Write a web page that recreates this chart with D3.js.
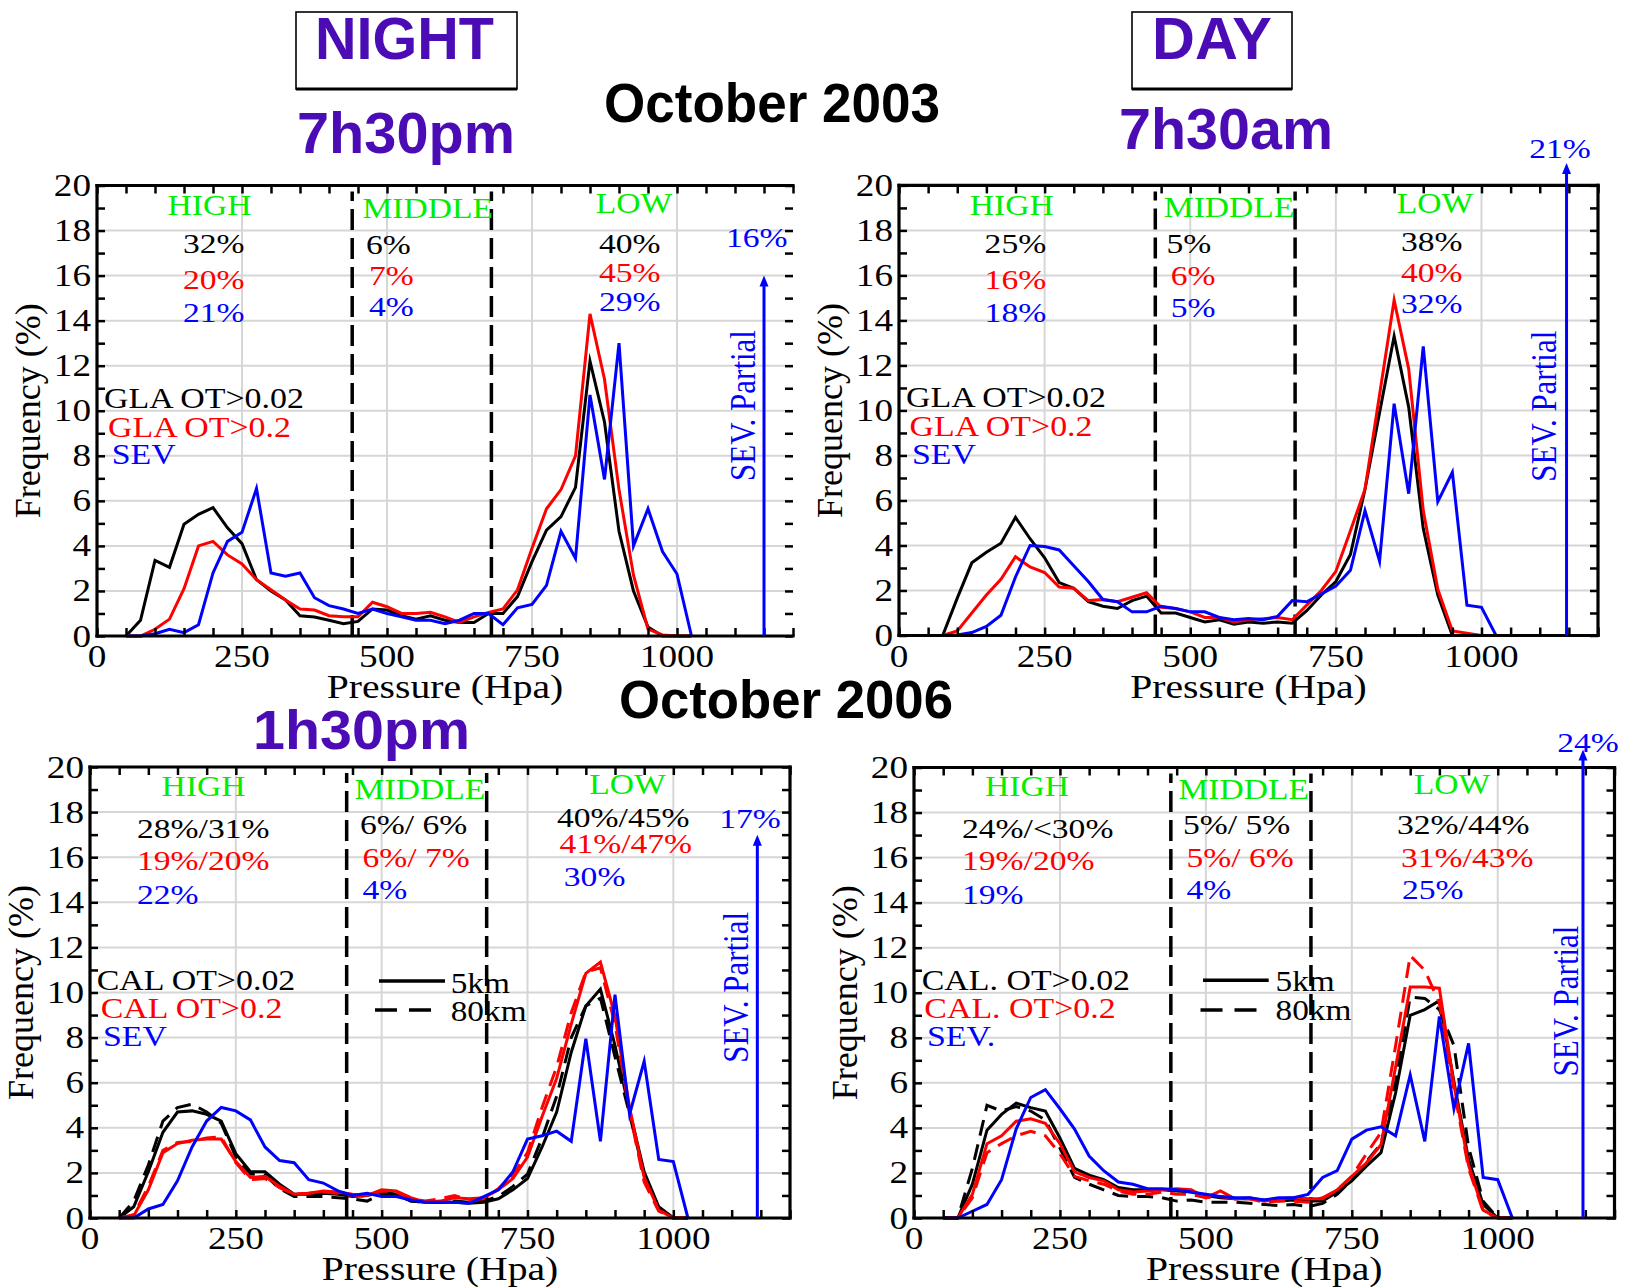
<!DOCTYPE html>
<html><head><meta charset="utf-8">
<script src="https://cdn.jsdelivr.net/npm/d3@7"></script>
<style>html,body{margin:0;padding:0;background:#fff;} svg{display:block;}</style>
</head><body>
<script>
// ---------------- DATA ----------------
const pressure = [50,75,100,125,150,175,200,225,250,275,300,325,350,375,400,425,450,475,500,525,550,575,600,625,650,675,700,725,750,775,800,825,850,875,900,925,950,975,1000,1025];

// October 2003, NIGHT 7h30pm
const night03_gla002 = [0,0.7,3.36,3.05,4.96,5.4,5.7,4.8,4.1,2.5, 2.0,1.6,0.9,0.84,0.7,0.55,0.65,1.2,1.15,0.9, 0.75,0.9,0.7,0.6,0.6,1.0,1.0,1.75,3.3,4.7, 5.3,6.6,12.2,9.5,4.65,2.0,0.4,0,0,0];
const night03_gla02  = [0,0,0.3,0.75,2.1,4.0,4.2,3.6,3.2,2.5, 2.05,1.6,1.2,1.15,0.9,0.85,0.85,1.5,1.3,1.0, 1.0,1.05,0.85,0.6,0.85,1.05,1.2,2.05,3.9,5.65, 6.5,8.0,14.3,11.4,6.5,2.7,0.3,0.05,0,0];
const night03_sev    = [0,0,0.1,0.3,0.15,0.5,2.8,4.2,4.6,6.55, 2.8,2.65,2.8,1.7,1.35,1.2,1.0,1.2,1.0,0.85, 0.7,0.7,0.55,0.7,1.0,1.0,0.5,1.25,1.4,2.25, 4.65,3.45,10.7,6.95,13.0,4.0,5.65,3.75,2.75,0];

// October 2003, DAY 7h30am
const day03_gla002 = [0,0,1.66,3.23,3.7,4.1,5.25,4.3,3.45,2.35, 2.1,1.5,1.3,1.2,1.55,1.75,1.0,1.0,0.8,0.6, 0.7,0.5,0.6,0.55,0.6,0.55,1.1,1.8,2.4,3.6, 6.5,9.9,13.3,10.15,4.75,1.8,0,0,0,0];
const day03_gla02  = [0,0,0.2,1.0,1.8,2.5,3.5,3.05,2.8,2.15, 2.1,1.55,1.6,1.5,1.7,1.9,1.25,1.2,1.05,0.8, 0.8,0.6,0.7,0.75,0.8,0.7,1.35,2.0,2.85,4.65, 6.5,10.7,14.9,11.85,5.55,2.05,0.2,0.1,0,0];
const day03_sev    = [0,0,0.02,0.13,0.4,0.9,2.6,4.0,3.95,3.8, 3.1,2.4,1.6,1.5,1.05,1.05,1.3,1.2,1.05,1.05, 0.8,0.7,0.75,0.7,0.85,1.55,1.5,1.85,2.2,2.9, 5.55,3.3,10.3,6.3,12.85,5.95,7.25,1.35,1.25,0];

// October 2006, 1h30pm
const pm06_cal002_5km  = [0,0.5,2.05,3.8,4.7,4.75,4.6,4.3,2.85,2.05, 2.05,1.5,1.05,1.05,1.1,1.05,0.95,1.0,1.15,1.05, 0.75,0.7,0.7,0.7,0.65,0.7,0.85,1.25,1.75,3.15, 4.7,7.35,9.4,10.15,7.65,4.75,2.05,0.5,0,0];
const pm06_cal002_80km = [0,0.75,2.35,4.3,4.9,5.05,4.7,4.2,2.7,1.95, 1.9,1.3,0.95,0.95,0.95,0.9,0.85,0.75,1.05,1.05, 0.75,0.7,0.7,0.75,0.7,0.75,0.95,1.4,1.95,3.55, 5.4,8.0,9.4,9.75,7.15,4.6,1.9,0.45,0,0];
const pm06_cal02_5km   = [0,0.1,1.25,2.9,3.3,3.45,3.5,3.5,2.5,1.8, 1.85,1.4,1.05,1.1,1.2,1.15,1.05,1.0,1.25,1.2, 0.9,0.7,0.75,0.9,0.85,0.9,1.25,1.75,2.7,4.5, 6.2,8.6,10.85,11.35,8.95,4.9,1.8,0.35,0,0];
const pm06_cal02_80km  = [0,0.15,1.4,3.0,3.35,3.4,3.55,3.6,2.45,1.7, 1.75,1.35,1.05,1.1,1.15,1.1,1.0,0.95,1.2,1.15, 0.85,0.75,0.85,1.0,0.8,0.85,1.3,1.9,2.9,4.9, 6.7,9.1,10.9,11.1,8.6,4.7,1.6,0.3,0,0];
const pm06_sev         = [0,0,0.4,0.6,1.65,3.15,4.3,4.9,4.75,4.35, 3.15,2.55,2.45,1.7,1.55,1.2,1.0,1.1,0.95,0.95, 0.8,0.7,0.7,0.7,0.65,0.95,1.25,2.05,3.5,3.65, 3.85,3.4,7.95,3.4,9.9,4.6,6.95,2.6,2.5,0];

// October 2006, 1h30am
const am06_cal002_5km  = [0,0,1.5,3.9,4.6,5.1,4.9,4.75,3.55,2.2, 1.9,1.7,1.35,1.25,1.25,1.25,1.2,1.15,1.0,0.9, 0.85,0.85,0.8,0.75,0.8,0.75,0.75,1.15,1.65,2.3, 2.9,5.55,9.0,9.25,9.65,6.05,2.6,0.6,0,0];
const am06_cal002_80km = [0,0,2.2,5.0,4.75,4.95,4.75,4.35,3.1,1.8, 1.5,1.25,1.0,0.95,0.95,0.9,0.75,0.8,0.7,0.7, 0.7,0.65,0.6,0.55,0.6,0.5,0.65,1.05,1.7,2.5, 3.3,6.05,9.8,9.75,9.25,7.65,3.15,0.75,0,0];
const am06_cal02_5km   = [0,0,1.05,3.3,3.65,4.3,4.4,4.2,3.3,2.05, 1.8,1.65,1.25,1.15,1.2,1.25,1.3,1.25,0.9,1.2, 0.85,0.9,0.75,0.85,0.9,0.85,0.85,1.25,1.85,2.45, 3.25,6.7,10.25,10.25,10.2,5.9,2.35,0.35,0,0];
const am06_cal02_80km  = [0,0,0.9,2.9,3.3,3.65,3.85,3.65,2.85,1.85, 1.65,1.5,1.2,1.05,1.05,1.15,1.05,1.05,0.9,0.95, 0.85,0.85,0.7,0.75,0.75,0.7,0.9,1.25,1.85,2.85, 3.8,7.65,11.65,11.0,9.55,5.7,2.2,0.3,0,0];
const am06_sev         = [0,0,0.3,0.6,1.7,3.95,5.35,5.7,4.85,3.95, 2.75,2.1,1.6,1.5,1.3,1.3,1.25,1.15,1.05,0.95, 0.9,0.9,0.8,0.9,0.9,1.05,1.8,2.1,3.5,3.9, 4.05,3.65,6.35,3.4,8.95,4.85,7.75,1.8,1.7,0];

// cloud-layer boundaries (hPa) and SEV partial share (%)
const layerBounds = [440, 680];
const sevPartial = [16, 21, 17, 24];

// layer percentages (black / red / blue)
const pctHigh = [["32%","20%","21%"], ["25%","16%","18%"], ["28%/31%","19%/20%","22%"], ["24%/<30%","19%/20%","19%"]];
const pctMid  = [["6%","7%","4%"], ["5%","6%","5%"], ["6%/ 6%","6%/ 7%","4%"], ["5%/ 5%","5%/ 6%","4%"]];
const pctLow  = [["40%","45%","29%"], ["38%","40%","32%"], ["40%/45%","41%/47%","30%"], ["32%/44%","31%/43%","25%"]];
const legendTexts = [["GLA OT>0.02","GLA OT>0.2","SEV"], ["GLA OT>0.02","GLA OT>0.2","SEV"], ["CAL OT>0.02","CAL OT>0.2","SEV"], ["CAL. OT>0.02","CAL. OT>0.2","SEV."]];
const layerNames = ["HIGH","MIDDLE","LOW"];
const resLabels = ["5km","80km"];

const xTickLabels = [0,250,500,750,1000];
const yTickLabels = [0,2,4,6,8,10,12,14,16,18,20];
const xMinorTicks = d3.range(0, 1201, 50);
const yMinorTicks = d3.range(0, 21, 1);

// ---------------- STYLE / LAYOUT ----------------
const SERIF = "'Liberation Serif','Times New Roman',serif";
const SANS = "'Liberation Sans',Arial,sans-serif";
const BLACK = "#000", RED = "#ff0000", BLUE = "#0000ff", GREEN = "#00ee00", PURPLE = "#4b0cb5";
const seriesColors = [BLACK, RED, BLUE];

const svg = d3.select("body").append("svg").attr("width", 1632).attr("height", 1287);

function stext(g, x, y, str, o) {
  const t = g.append("text")
    .attr("transform", `translate(${x},${y})${o.rot ? ` rotate(${o.rot})` : ""} scale(${o.sx || 1},${o.sy || 1})`)
    .attr("font-family", o.font || SERIF)
    .attr("font-size", o.size)
    .attr("font-weight", o.weight || "normal")
    .attr("fill", o.fill || BLACK)
    .attr("text-anchor", o.anchor || "start")
    .style("white-space", "pre")
    .text(str);
  if (o.len) t.attr("textLength", o.len).attr("lengthAdjust", "spacingAndGlyphs");
  return t;
}

const panels = [
  { rect: [97, 185.5, 793, 636], rightSpine: false,
    series: [{v: night03_gla002, c: BLACK}, {v: night03_gla02, c: RED}, {v: night03_sev, c: BLUE}],
    L: { high: [112.5, 29.5], hp: [86, [67.5, 103.5, 136.2]], mid: [265.4, 32.5], mp: [[269, 272, 272], [68.5, 99.5, 130.5]],
         low: [537, 27.5], lp: [[502, 502, 502], [67, 96.3, 125.5]], leg: [[7, 11, 14.7], [222.5, 251.2, 278.5]],
         sevLab: [659.7, 61.2], sevTxt: [658, 220], arrowX: 1150, arrowTop: 16 } },
  { rect: [899, 185.4, 1598, 635.5], rightSpine: true,
    series: [{v: day03_gla002, c: BLACK}, {v: day03_gla02, c: RED}, {v: day03_sev, c: BLUE}],
    L: { high: [112.8, 29.1], hp: [85.6, [67.3, 103.6, 136.4]], mid: [264.8, 31.6], mp: [[267.5, 271.7, 271.7], [67.3, 99.6, 131.6]],
         low: [536, 27.3], lp: [[502, 502, 502], [65.6, 96.4, 127.3]], leg: [[7, 10.6, 13], [221.6, 250.6, 278.1]],
         sevLab: [661, -27.4], sevTxt: [657, 220.8], arrowX: 1146, arrowTop: 21 } },
  { rect: [90, 767, 790, 1218], rightSpine: true,
    series: [{v: pm06_cal002_5km, c: BLACK}, {v: pm06_cal002_80km, c: BLACK, dash: true},
             {v: pm06_cal02_5km, c: RED}, {v: pm06_cal02_80km, c: RED, dash: true}, {v: pm06_sev, c: BLUE}],
    L: { high: [113.6, 29], hp: [47, [70.5, 103, 136.7]], mid: [264.6, 31.8], mp: [[270, 272.4, 272.4], [67, 99.5, 132]],
         low: [537.5, 27], lp: [[467, 469.6, 473.8], [59.7, 86, 118.6]], leg: [[6.7, 10.7, 13], [223, 251, 279]],
         lineLeg: { solid: [289, 355, 214], dashed: [285, 346.7, 243], t: [[360.7, 225.7], [360.7, 253.7]] },
         sevLab: [660, 60.8], sevTxt: [658, 220.4], arrowX: 1144, arrowTop: 17 } },
  { rect: [914, 767.5, 1614.5, 1218], rightSpine: true,
    series: [{v: am06_cal002_5km, c: BLACK}, {v: am06_cal002_80km, c: BLACK, dash: true},
             {v: am06_cal02_5km, c: RED}, {v: am06_cal02_80km, c: RED, dash: true}, {v: am06_sev, c: BLUE}],
    L: { high: [113, 28.5], hp: [48, [70, 102.5, 136.2]], mid: [264.5, 31.3], mp: [[269, 272.4, 272.4], [66.5, 99, 131.5]],
         low: [538, 26.5], lp: [[483, 487, 488], [66.5, 99, 131.5]], leg: [[7.7, 10.3, 13], [222, 250.5, 278]],
         lineLeg: { solid: [289, 354.7, 212.8], dashed: [286.5, 346.8, 242.5], t: [[361.5, 223], [361.5, 252]] },
         sevLab: [674, -15.5], sevTxt: [664, 233.5], arrowX: 1146, arrowTop: 20.8 } }
];

panels.forEach((p, i) => {
  const [x0, y0, x1, y1] = p.rect;
  const L = p.L;
  const x = d3.scaleLinear().domain([0, 1200]).range([x0, x1]);
  const y = d3.scaleLinear().domain([0, 20]).range([y1, y0]);
  const g = svg.append("g");

  // grid
  g.append("g").selectAll("line.gx").data(xTickLabels.filter(v => v > 0)).join("line")
    .attr("x1", d => x(d)).attr("x2", d => x(d)).attr("y1", y0).attr("y2", y1)
    .attr("stroke", "#d6d6d6").attr("stroke-width", 2);
  g.append("g").selectAll("line.gy").data(yTickLabels.filter(v => v > 0 && v < 20)).join("line")
    .attr("x1", x0).attr("x2", x1).attr("y1", d => y(d)).attr("y2", d => y(d))
    .attr("stroke", "#d6d6d6").attr("stroke-width", 2);

  // layer boundaries
  g.append("g").selectAll("line").data(layerBounds).join("line")
    .attr("x1", d => x(d)).attr("x2", d => x(d)).attr("y1", y(0)).attr("y2", y(20) + 6)
    .attr("stroke", BLACK).attr("stroke-width", 3.5).attr("stroke-dasharray", "21,8");

  // curves
  const line = d3.line().x(d => x(d[0])).y(d => y(d[1]));
  p.series.forEach(s => {
    g.append("path").datum(pressure.map((pv, k) => [pv, s.v[k]]))
      .attr("d", line).attr("fill", "none").attr("stroke", s.c).attr("stroke-width", 3)
      .attr("stroke-linejoin", "miter").attr("stroke-miterlimit", 6)
      .attr("stroke-dasharray", s.dash ? "16,9" : null);
  });

  // ticks (inward)
  const tickStyle = sel => { sel.select(".domain").remove(); sel.selectAll("line").attr("stroke", BLACK).attr("stroke-width", 2.5); sel.selectAll("text").remove(); };
  g.append("g").attr("transform", `translate(0,${y1})`).call(d3.axisBottom(x).tickValues(xMinorTicks).tickSize(-8).tickFormat("")).call(tickStyle);
  g.append("g").attr("transform", `translate(0,${y0})`).call(d3.axisTop(x).tickValues(xMinorTicks).tickSize(-8).tickFormat("")).call(tickStyle);
  g.append("g").attr("transform", `translate(${x0},0)`).call(d3.axisLeft(y).tickValues(yMinorTicks).tickSize(-8).tickFormat("")).call(tickStyle);
  g.append("g").attr("transform", `translate(${x1},0)`).call(d3.axisRight(y).tickValues(yMinorTicks).tickSize(-8).tickFormat("")).call(tickStyle);

  // spines
  const sp = (a, b, c, d) => g.append("line").attr("x1", a).attr("y1", b).attr("x2", c).attr("y2", d).attr("stroke", BLACK).attr("stroke-width", 3.2).attr("stroke-linecap", "square");
  sp(x0, y1, x1, y1); sp(x0, y0, x1, y0); sp(x0, y0, x0, y1);
  if (p.rightSpine) sp(x1, y0, x1, y1);

  // tick labels
  xTickLabels.forEach(v => stext(g, x(v), y1 + 31, String(v), {size: 31, sx: 1.2, anchor: "middle"}));
  yTickLabels.forEach(v => stext(g, x0 - 6, y(v) + 10.5, String(v), {size: 31, sx: 1.2, anchor: "end"}));

  // axis titles
  stext(g, (x0 + x1) / 2, y1 + 62, "Pressure (Hpa)", {size: 33, sx: 1.2, anchor: "middle"});
  stext(g, x0 - 57, (y0 + y1) / 2, "Frequency (%)", {size: 36, rot: -90, anchor: "middle"});

  // layer names
  stext(g, x0 + L.high[0], y0 + L.high[1], layerNames[0], {size: 30, sx: 1.12, fill: GREEN, anchor: "middle"});
  stext(g, x0 + L.mid[0], y0 + L.mid[1], layerNames[1], {size: 30, sx: 1.12, fill: GREEN});
  stext(g, x0 + L.low[0], y0 + L.low[1], layerNames[2], {size: 30, sx: 1.12, fill: GREEN, anchor: "middle"});

  // percentages
  pctHigh[i].forEach((t, k) => stext(g, x0 + L.hp[0], y0 + L.hp[1][k], t, {size: 28, sx: 1.2, fill: seriesColors[k]}));
  pctMid[i].forEach((t, k) => stext(g, x0 + L.mp[0][k], y0 + L.mp[1][k], t, {size: 28, sx: 1.2, fill: seriesColors[k]}));
  pctLow[i].forEach((t, k) => stext(g, x0 + L.lp[0][k], y0 + L.lp[1][k], t, {size: 28, sx: 1.2, fill: seriesColors[k]}));

  // legend
  legendTexts[i].forEach((t, k) => stext(g, x0 + L.leg[0][k], y0 + L.leg[1][k], t, {size: 30, sx: 1.13, fill: seriesColors[k]}));
  if (L.lineLeg) {
    const ll = L.lineLeg;
    g.append("line").attr("x1", x0 + ll.solid[0]).attr("x2", x0 + ll.solid[1]).attr("y1", y0 + ll.solid[2]).attr("y2", y0 + ll.solid[2])
      .attr("stroke", BLACK).attr("stroke-width", 3.5);
    g.append("line").attr("x1", x0 + ll.dashed[0]).attr("x2", x0 + ll.dashed[1]).attr("y1", y0 + ll.dashed[2]).attr("y2", y0 + ll.dashed[2])
      .attr("stroke", BLACK).attr("stroke-width", 3.5).attr("stroke-dasharray", "22,12");
    resLabels.forEach((t, k) => stext(g, x0 + ll.t[k][0], y0 + ll.t[k][1], t, {size: 30, sx: 1.11}));
  }

  // SEV partial arrow
  const ax = x(L.arrowX), at = y(L.arrowTop);
  g.append("line").attr("x1", ax).attr("x2", ax).attr("y1", y(0)).attr("y2", at + 6).attr("stroke", BLUE).attr("stroke-width", 3);
  g.append("path").attr("d", `M${ax},${at} L${ax - 4.5},${at + 11} L${ax + 4.5},${at + 11} Z`).attr("fill", BLUE);
  stext(g, x0 + L.sevLab[0], y0 + L.sevLab[1], sevPartial[i] + "%", {size: 28, sx: 1.2, fill: BLUE, anchor: "middle"});
  stext(g, x0 + L.sevTxt[0], y0 + L.sevTxt[1], "SEV. Partial", {size: 31, rot: -90, sy: 1.15, fill: BLUE, anchor: "middle"});
});

// ---------------- TITLES ----------------
const tg = svg.append("g");
function box(xb, yb, w, h) {
  tg.append("rect").attr("x", xb).attr("y", yb).attr("width", w).attr("height", h).attr("fill", "none").attr("stroke", BLACK).attr("stroke-width", 1.6);
  tg.append("line").attr("x1", xb).attr("x2", xb + w).attr("y1", yb + h).attr("y2", yb + h).attr("stroke", BLACK).attr("stroke-width", 3);
}
box(296, 12, 221, 77);
box(1132, 12, 160, 77);
stext(tg, 315, 59, "NIGHT", {font: SANS, weight: "bold", size: 60, fill: PURPLE, len: 179});
stext(tg, 1152, 59, "DAY", {font: SANS, weight: "bold", size: 60, fill: PURPLE, len: 120});
stext(tg, 297, 153, "7h30pm", {font: SANS, weight: "bold", size: 57, fill: PURPLE, len: 218});
stext(tg, 1119, 149, "7h30am", {font: SANS, weight: "bold", size: 57, fill: PURPLE, len: 214});
stext(tg, 604, 122, "October 2003", {font: SANS, weight: "bold", size: 56, len: 336});
stext(tg, 619, 718, "October 2006", {font: SANS, weight: "bold", size: 54, len: 334});
stext(tg, 253, 749, "1h30pm", {font: SANS, weight: "bold", size: 56, fill: PURPLE, len: 217});
</script>
</body></html>
